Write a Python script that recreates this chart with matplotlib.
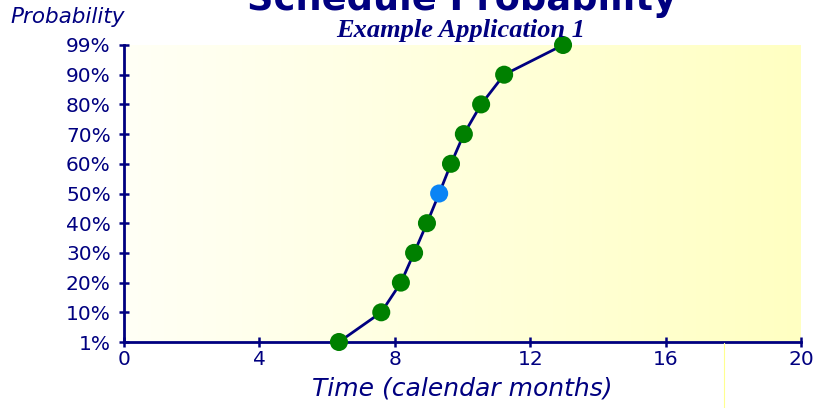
import numpy as np
import matplotlib
matplotlib.use("Agg")
import matplotlib.pyplot as plt
from matplotlib.lines import Line2D

# Schedule completion data: months to finish vs. cumulative probability level
prob_labels = ["1%", "10%", "20%", "30%", "40%", "50%", "60%", "70%", "80%", "90%", "99%"]
months = [6.35, 7.6, 8.18, 8.57, 8.95, 9.31, 9.66, 10.04, 10.55, 11.23, 12.97]
x_ticks = [0, 4, 8, 12, 16, 20]
highlight_label = "50%"

navy = "#000080"
green = "#008000"
blue = "#0A84F5"

fig = plt.figure(figsize=(8.15, 4.08), dpi=100)
fig.patch.set_facecolor("white")
ax = fig.add_axes([124 / 815, 1 - 342 / 408, (801 - 124) / 815, (342 - 45) / 408])

levels = np.arange(len(prob_labels))
ax.set_xlim(0, 20)
ax.set_ylim(0, len(prob_labels) - 1)

# pale-to-yellow horizontal gradient behind the curve
grad = np.linspace(0, 1, 256).reshape(1, -1)
cmap = matplotlib.colors.LinearSegmentedColormap.from_list("bg", ["#FFFFF6", "#FFFFC2"])
ax.imshow(grad, cmap=cmap, aspect="auto", extent=[0, 20, 0, len(prob_labels) - 1],
          zorder=0, interpolation="bicubic")

ax.plot(months, levels, color=navy, lw=2.0, zorder=2, clip_on=False)
colors = [blue if lab == highlight_label else green for lab in prob_labels]
ax.scatter(months, levels, s=13 ** 2, c=colors, zorder=3, clip_on=False, linewidths=0)

for side in ("top", "right"):
    ax.spines[side].set_visible(False)
for side in ("left", "bottom"):
    ax.spines[side].set_color(navy)
    ax.spines[side].set_linewidth(2)

ax.set_yticks(levels)
ax.set_yticklabels(prob_labels)
ax.set_xticks(x_ticks)
ax.set_xticklabels([str(t) for t in x_ticks])
ax.tick_params(axis="both", direction="inout", length=7, width=1.8, color=navy,
               labelcolor=navy, labelsize=14.5)
ax.tick_params(axis="y", pad=6)
ax.tick_params(axis="x", pad=2)
for lab in ax.get_xticklabels() + ax.get_yticklabels():
    lab.set_family("DejaVu Sans")

ax.set_xlabel("Time (calendar months)", fontsize=18, style="italic", color=navy, labelpad=6)

fig.text(10 / 815, 1 - 17 / 408, "Probability", fontsize=15.5, style="italic",
         color=navy, ha="left", va="center")
fig.text(462 / 815, 1 - 10 / 408, "Schedule Probability", fontsize=26.5, weight="bold",
         color=navy, ha="center", va="baseline")
fig.text(461 / 815, 1 - 37 / 408, "Example Application 1", fontsize=19, weight="bold",
         style="italic", family="Liberation Serif", color=navy, ha="center", va="baseline")

fig.add_artist(Line2D([724 / 815, 724 / 815], [0, 1 - 343 / 408], transform=fig.transFigure,
                      color="#FFFF90", lw=0.8))

fig.savefig("out.png", dpi=100)
